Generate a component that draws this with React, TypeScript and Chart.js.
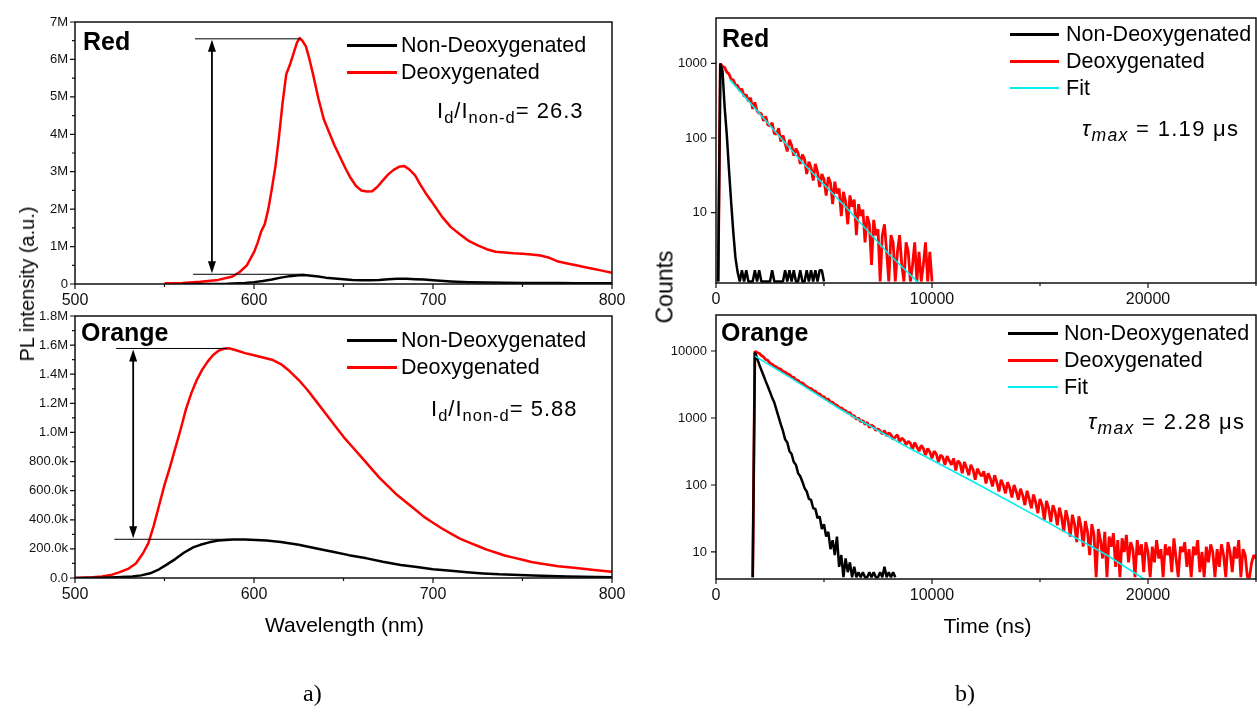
import React, { useEffect, useRef } from 'react';
import { Chart, registerables } from 'chart.js';

Chart.register(...registerables);

const PAGE_W = 1257;
const PAGE_H = 714;
const SANS = '"Liberation Sans", Arial, Helvetica, sans-serif';
const SERIF = '"Liberation Serif", "Times New Roman", serif';

// ---------- shared series styling ----------
const seriesLabels = ['Non-Deoxygenated', 'Deoxygenated', 'Fit'];
const seriesColors = ['#000000', '#ff0000', '#00eeee'];

// ---------- a) PL spectra ----------
const wavelengthTicks = [500, 600, 700, 800];
const wavelengthMinorTicks = [550, 650, 750];

const redPlTicks = [0, 1, 2, 3, 4, 5, 6, 7];
const redPlTickLabels = ['0', '1M', '2M', '3M', '4M', '5M', '6M', '7M'];
const redPlMinorTicks = [0.5, 1.5, 2.5, 3.5, 4.5, 5.5, 6.5];

const orangePlTicks = [0, 0.2, 0.4, 0.6, 0.8, 1.0, 1.2, 1.4, 1.6, 1.8];
const orangePlTickLabels = ['0.0', '200.0k', '400.0k', '600.0k', '800.0k', '1.0M', '1.2M', '1.4M', '1.6M', '1.8M'];
const orangePlMinorTicks = [0.1, 0.3, 0.5, 0.7, 0.9, 1.1, 1.3, 1.5, 1.7];

// Red emitter, PL in millions
const redDeoxWl = [550, 560, 570, 580, 588, 592, 596, 600, 602, 604, 606, 608, 610, 612, 614, 616, 618, 620, 622, 624, 625.5, 627, 629, 631, 633, 636, 639, 642, 645, 648, 651, 654, 657, 660, 663, 666, 669, 672, 675, 678, 681, 684, 687, 690, 693, 696, 700, 705, 710, 715, 720, 725, 730, 735, 740, 745, 750, 755, 760, 765, 770, 775, 780, 785, 790, 795, 800];
const redDeoxPl = [0.02, 0.03, 0.06, 0.11, 0.2, 0.32, 0.5, 0.85, 1.1, 1.4, 1.6, 2.0, 2.55, 3.15, 3.95, 4.85, 5.6, 5.85, 6.15, 6.45, 6.57, 6.5, 6.35, 6.0, 5.6, 4.95, 4.4, 4.05, 3.7, 3.4, 3.1, 2.83, 2.62, 2.5, 2.47, 2.48, 2.6, 2.77, 2.93, 3.05, 3.13, 3.15, 3.05, 2.9, 2.65, 2.42, 2.15, 1.8, 1.52, 1.33, 1.15, 1.03, 0.93, 0.86, 0.84, 0.82, 0.81, 0.79, 0.76, 0.7, 0.6, 0.55, 0.5, 0.45, 0.4, 0.35, 0.3];
const redNonDeoxWl = [560, 575, 585, 595, 600, 605, 610, 615, 620, 625, 628, 632, 636, 640, 645, 650, 655, 660, 665, 670, 675, 680, 685, 690, 695, 700, 710, 720, 730, 740, 750, 760, 770, 780, 790, 800];
const redNonDeoxPl = [0, 0.003, 0.01, 0.03, 0.05, 0.08, 0.12, 0.17, 0.21, 0.235, 0.24, 0.22, 0.2, 0.17, 0.15, 0.13, 0.11, 0.1, 0.1, 0.11, 0.13, 0.14, 0.14, 0.13, 0.12, 0.1, 0.07, 0.05, 0.04, 0.035, 0.03, 0.03, 0.025, 0.02, 0.02, 0.02];

// Orange emitter, PL in millions
const orangeDeoxWl = [500, 510, 515, 520, 525, 530, 534, 538, 541, 544, 547, 550, 553, 556, 559, 562, 565, 568, 571, 574, 577, 580, 583, 586, 590, 595, 600, 605, 610, 615, 620, 625, 630, 635, 640, 645, 650, 655, 660, 665, 670, 675, 680, 685, 690, 695, 700, 705, 710, 715, 720, 725, 730, 735, 740, 745, 750, 755, 760, 770, 780, 790, 800];
const orangeDeoxPl = [0.0, 0.005, 0.01, 0.02, 0.04, 0.065, 0.1, 0.17, 0.24, 0.36, 0.5, 0.64, 0.76, 0.89, 1.02, 1.16, 1.27, 1.36, 1.43, 1.485, 1.53, 1.56, 1.575, 1.578, 1.565, 1.545, 1.53, 1.515, 1.5, 1.47, 1.42, 1.36, 1.29, 1.21, 1.13, 1.05, 0.97, 0.9, 0.83, 0.76, 0.69, 0.63, 0.57, 0.52, 0.47, 0.42, 0.38, 0.34, 0.305, 0.27, 0.245, 0.22, 0.195, 0.175, 0.155, 0.14, 0.125, 0.11, 0.1, 0.08, 0.068, 0.055, 0.043];
const orangeNonDeoxWl = [500, 515, 523, 532, 537, 542, 547, 551, 556, 561, 566, 570, 575, 580, 588, 595, 607, 615, 625, 637, 644, 653, 663, 672, 682, 691, 700, 710, 719, 728, 737, 756, 775, 800];
const orangeNonDeoxPl = [0, 0.002, 0.005, 0.01, 0.018, 0.032, 0.06, 0.09, 0.13, 0.175, 0.21, 0.228, 0.245, 0.257, 0.265, 0.265, 0.258, 0.248, 0.228, 0.197, 0.18, 0.157, 0.135, 0.112, 0.09, 0.075, 0.06, 0.049, 0.039, 0.031, 0.025, 0.018, 0.01, 0.006];

// Intensity-ratio markers (wavelength, PL in millions)
const redRatioMarker = { x: 576.5, top: 6.55, bottom: 0.26, topFrom: 567, topTo: 626, bottomFrom: 566, bottomTo: 628 };
const orangeRatioMarker = { x: 532.5, top: 1.577, bottom: 0.266, topFrom: 523, topTo: 585, bottomFrom: 522, bottomTo: 586 };

// ---------- b) decays ----------
const timeTicks = [0, 10000, 20000];
const timeMinorTicks = [5000, 15000, 25000];
const redDecayTicks = [10, 100, 1000];
const redDecayTickLabels = ['10', '100', '1000'];
const orangeDecayTicks = [10, 100, 1000, 10000];
const orangeDecayTickLabels = ['10', '100', '1000', '10000'];

const channelNs = 100; // channel width of the decay histograms

const redDecayStartNs = 100;
const redDeoxCounts = [
  1.2, 990, 910, 880, 760, 720, 610, 600, 510, 505,
  430, 455, 360, 380, 310, 345, 245, 300, 230, 215,
  210, 170, 195, 150, 145, 160, 115, 112, 135, 90,
  108, 85, 66, 95, 80, 58, 72, 63, 45, 60,
  52, 33, 48, 40, 27, 45, 35, 22, 33, 28,
  17, 30, 25, 13, 26, 18, 21, 9, 19, 14,
  7, 17, 12, 15, 5, 13, 9, 11, 4, 9,
  7, 2, 8, 5, 6, 1.2, 5, 7, 3, 1.2,
  5, 4, 1.2, 3, 5, 2, 1.2, 4, 3, 1.2,
  2, 4, 1.2, 3, 1.2, 2, 4, 1.2, 3, 1.2,
];
const redNonDeoxCounts = [
  1.2, 990, 800, 260, 110, 38, 14, 5.5, 2.5, 1.6,
  1.2, 1.7, 1.2, 1.7, 1.2, 1.2, 1.2, 1.7, 1.2, 1.7,
  1.2, 1.2, 1.2, 1.2, 1.2, 1.7, 1.2, 1.2, 1.2, 1.2,
  1.2, 1.7, 1.2, 1.7, 1.2, 1.7, 1.2, 1.2, 1.7, 1.2,
  1.2, 1.7, 1.2, 1.7, 1.2, 1.7, 1.2, 1.7, 1.7, 1.2,
];
const redFitNs = [648, 2000, 4000, 6000, 8000, 9600];
const redFitCounts = [600, 215, 47, 12, 2.8, 1.0];

const orangeDecayStartNs = 1700;
const orangeDeoxCounts = [
  4.2, 9900, 9450, 9250, 8550, 8150, 7450, 7250, 6550, 6350,
  5950, 5750, 5450, 5350, 4950, 4850, 4550, 4450, 4100, 4050,
  3700, 3650, 3350, 3350, 3100, 2950, 2800, 2750, 2550, 2520,
  2300, 2290, 2080, 2090, 1890, 1910, 1720, 1730, 1580, 1560,
  1430, 1420, 1330, 1290, 1180, 1210, 1070, 1080, 960, 1000,
  880, 920, 800, 860, 720, 780, 740, 650, 690, 640,
  580, 650, 540, 600, 560, 480, 520, 560, 440, 500,
  470, 400, 450, 420, 340, 430, 370, 320, 390, 350,
  280, 350, 310, 250, 320, 290, 220, 280, 260, 200,
  270, 230, 200, 250, 165, 230, 210, 150, 220, 180,
  140, 200, 170, 120, 175, 150, 135, 160, 105, 150,
  125, 95, 140, 110, 80, 120, 100, 75, 110, 90,
  65, 100, 80, 60, 88, 70, 50, 82, 62, 45,
  72, 55, 38, 62, 50, 30, 58, 45, 28, 50,
  40, 25, 46, 33, 20, 42, 30, 17, 36, 26,
  14, 34, 24, 12, 29, 20, 9, 26, 18, 4.2,
  22, 15, 8, 20, 4.2, 17, 12, 19, 6, 15,
  4.2, 16, 10, 18, 7, 14, 11, 4.2, 15, 9,
  13, 5, 14, 10, 4.2, 12, 7, 15, 8, 11,
  4.2, 13, 9, 12, 5, 16, 8, 4.2, 12, 10,
  14, 6, 11, 4.2, 12, 9, 15, 5, 10, 4.2,
  12, 7, 13, 10, 4.2, 11, 6, 13, 9, 4.2,
  14, 10, 5, 12, 8, 15, 4.2, 11, 9, 4.2,
  4.2, 7, 9, 8,
];
const orangeNonDeoxCounts = [
  4.2, 9600, 7800, 6300, 5200, 4300, 3550, 2950, 2450, 2000,
  1700, 1320, 1030, 800, 640, 480, 430, 320, 290, 220,
  200, 150, 135, 112, 90, 80, 62, 60, 45, 44,
  32, 34, 22, 26, 17, 20, 11, 15, 9, 17,
  6, 9, 4.2, 8, 5, 7, 4.2, 6, 4.2, 5,
  4.2, 5, 4.2, 4.2, 5, 4.2, 5, 4.2, 4.2, 5,
  4.2, 6, 4.2, 5, 4.2, 5, 4.2,
];
const orangeFitNs = [1806, 3500, 5740, 8830, 11910, 15000, 18090, 19900];
const orangeFitCounts = [8400, 3900, 1360, 372, 112, 32, 9, 3.8];

const channelTimes = (start: number, counts: number[]) => counts.map((_, i) => start + i * channelNs);

// ---------- panel definitions ----------
type Series = { label: string; color: string; width: number; order: number; join: string; x: number[]; y: number[] };
type Panel = {
  id: string;
  area: { left: number; top: number; right: number; bottom: number };
  xMin: number; xMax: number; xTicks: number[]; xMinor: number[];
  yType: 'linear' | 'logarithmic'; yMin: number; yMax: number;
  yTicks: number[]; yLabels: string[]; yMinor: number[];
  yFont: number; yPad: number; xPad: number;
  series: Series[];
  marker?: any;
};

const panels: Panel[] = [
  {
    id: 'redPL',
    area: { left: 75, top: 22, right: 612, bottom: 284 },
    xMin: 500, xMax: 800, xTicks: wavelengthTicks, xMinor: wavelengthMinorTicks,
    yType: 'linear', yMin: 0, yMax: 7, yTicks: redPlTicks, yLabels: redPlTickLabels, yMinor: redPlMinorTicks,
    yFont: 13, yPad: 7, xPad: 7,
    series: [
      { label: seriesLabels[0], color: seriesColors[0], width: 2.5, order: 1, join: 'round', x: redNonDeoxWl, y: redNonDeoxPl },
      { label: seriesLabels[1], color: seriesColors[1], width: 2.5, order: 2, join: 'round', x: redDeoxWl, y: redDeoxPl },
    ],
    marker: redRatioMarker,
  },
  {
    id: 'orangePL',
    area: { left: 75, top: 316, right: 612, bottom: 578 },
    xMin: 500, xMax: 800, xTicks: wavelengthTicks, xMinor: wavelengthMinorTicks,
    yType: 'linear', yMin: 0, yMax: 1.8, yTicks: orangePlTicks, yLabels: orangePlTickLabels, yMinor: orangePlMinorTicks,
    yFont: 13, yPad: 7, xPad: 7,
    series: [
      { label: seriesLabels[0], color: seriesColors[0], width: 2.5, order: 1, join: 'round', x: orangeNonDeoxWl, y: orangeNonDeoxPl },
      { label: seriesLabels[1], color: seriesColors[1], width: 2.5, order: 2, join: 'round', x: orangeDeoxWl, y: orangeDeoxPl },
    ],
    marker: orangeRatioMarker,
  },
  {
    id: 'redDecay',
    area: { left: 716, top: 18, right: 1256, bottom: 283 },
    xMin: 0, xMax: 25000, xTicks: timeTicks, xMinor: timeMinorTicks,
    yType: 'logarithmic', yMin: 1.145, yMax: 4040, yTicks: redDecayTicks, yLabels: redDecayTickLabels, yMinor: [],
    yFont: 13, yPad: 9, xPad: 7,
    series: [
      { label: seriesLabels[2], color: seriesColors[2], width: 1.6, order: 0, join: 'round', x: redFitNs, y: redFitCounts },
      { label: seriesLabels[0], color: seriesColors[0], width: 2.5, order: 1, join: 'bevel', x: channelTimes(redDecayStartNs, redNonDeoxCounts), y: redNonDeoxCounts },
      { label: seriesLabels[1], color: seriesColors[1], width: 2.8, order: 2, join: 'bevel', x: channelTimes(redDecayStartNs, redDeoxCounts), y: redDeoxCounts },
    ],
  },
  {
    id: 'orangeDecay',
    area: { left: 716, top: 315, right: 1256, bottom: 579 },
    xMin: 0, xMax: 25000, xTicks: timeTicks, xMinor: timeMinorTicks,
    yType: 'logarithmic', yMin: 3.95, yMax: 34450, yTicks: orangeDecayTicks, yLabels: orangeDecayTickLabels, yMinor: [],
    yFont: 13, yPad: 9, xPad: 7,
    series: [
      { label: seriesLabels[2], color: seriesColors[2], width: 1.6, order: 0, join: 'round', x: orangeFitNs, y: orangeFitCounts },
      { label: seriesLabels[0], color: seriesColors[0], width: 2.5, order: 1, join: 'bevel', x: channelTimes(orangeDecayStartNs, orangeNonDeoxCounts), y: orangeNonDeoxCounts },
      { label: seriesLabels[1], color: seriesColors[1], width: 2.8, order: 2, join: 'bevel', x: channelTimes(orangeDecayStartNs, orangeDeoxCounts), y: orangeDeoxCounts },
    ],
  },
];

const Y_AXIS_W = 60;
const X_AXIS_H = 30;

function framePlugin(p: Panel) {
  return {
    id: 'frame_' + p.id,
    afterDatasetsDraw(chart: any) {
      const { ctx, chartArea: a } = chart;
      const xs = chart.scales.x;
      const ys = chart.scales.y;
      ctx.save();
      if (p.marker) {
        const m = p.marker;
        const ax = xs.getPixelForValue(m.x);
        const yt = ys.getPixelForValue(m.top);
        const yb = ys.getPixelForValue(m.bottom);
        ctx.strokeStyle = '#000';
        ctx.lineWidth = 1;
        ctx.beginPath();
        ctx.moveTo(xs.getPixelForValue(m.topFrom), yt);
        ctx.lineTo(xs.getPixelForValue(m.topTo), yt);
        ctx.moveTo(xs.getPixelForValue(m.bottomFrom), yb);
        ctx.lineTo(xs.getPixelForValue(m.bottomTo), yb);
        ctx.stroke();
        const head = 13;
        const hw = 4;
        ctx.lineWidth = 1.8;
        ctx.beginPath();
        ctx.moveTo(ax, yt + head - 2);
        ctx.lineTo(ax, yb - head + 2);
        ctx.stroke();
        ctx.fillStyle = '#000';
        ctx.beginPath();
        ctx.moveTo(ax, yt + 1);
        ctx.lineTo(ax - hw, yt + head);
        ctx.lineTo(ax + hw, yt + head);
        ctx.closePath();
        ctx.fill();
        ctx.beginPath();
        ctx.moveTo(ax, yb - 1);
        ctx.lineTo(ax - hw, yb - head);
        ctx.lineTo(ax + hw, yb - head);
        ctx.closePath();
        ctx.fill();
      }
      ctx.strokeStyle = '#111';
      ctx.lineWidth = 1.5;
      ctx.strokeRect(a.left, a.top, a.right - a.left, a.bottom - a.top);
      ctx.lineWidth = 1.2;
      ctx.beginPath();
      p.xTicks.forEach((v) => { const px = xs.getPixelForValue(v); ctx.moveTo(px, a.bottom); ctx.lineTo(px, a.bottom + 5); });
      p.xMinor.forEach((v) => { const px = xs.getPixelForValue(v); ctx.moveTo(px, a.bottom); ctx.lineTo(px, a.bottom + 3); });
      p.yTicks.forEach((v) => { const py = ys.getPixelForValue(v); ctx.moveTo(a.left - 5, py); ctx.lineTo(a.left, py); });
      p.yMinor.forEach((v) => { const py = ys.getPixelForValue(v); ctx.moveTo(a.left - 3, py); ctx.lineTo(a.left, py); });
      ctx.stroke();
      ctx.restore();
    },
  };
}

function buildConfig(p: Panel): any {
  return {
    type: 'line',
    data: {
      datasets: p.series.map((s) => ({
        label: s.label,
        data: s.x.map((xv, i) => ({ x: xv, y: s.y[i] })),
        borderColor: s.color,
        backgroundColor: s.color,
        borderWidth: s.width,
        pointRadius: 0,
        tension: 0,
        fill: false,
        order: s.order,
        borderJoinStyle: s.join,
      })),
    },
    options: {
      responsive: false,
      maintainAspectRatio: false,
      animation: false,
      events: [],
      layout: {
        padding: {
          left: p.area.left - Y_AXIS_W,
          right: PAGE_W - p.area.right,
          top: p.area.top,
          bottom: PAGE_H - p.area.bottom - X_AXIS_H,
        },
      },
      plugins: { legend: { display: false }, tooltip: { enabled: false } },
      scales: {
        x: {
          type: 'linear',
          min: p.xMin,
          max: p.xMax,
          bounds: 'data',
          grid: { display: false, drawTicks: false },
          border: { display: false },
          afterBuildTicks: (s: any) => { s.ticks = p.xTicks.map((v) => ({ value: v })); },
          afterFit: (s: any) => { s.height = X_AXIS_H; },
          ticks: {
            autoSkip: false,
            maxRotation: 0,
            padding: p.xPad,
            color: '#111',
            font: { family: SANS, size: 16 },
            callback: (v: number) => String(v),
          },
        },
        y: {
          type: p.yType,
          min: p.yMin,
          max: p.yMax,
          bounds: 'data',
          grid: { display: false, drawTicks: false },
          border: { display: false },
          afterBuildTicks: (s: any) => { s.ticks = p.yTicks.map((v) => ({ value: v })); },
          afterFit: (s: any) => { s.width = Y_AXIS_W; },
          ticks: {
            autoSkip: false,
            padding: p.yPad,
            color: '#111',
            font: { family: SANS, size: p.yFont },
            callback: (_v: number, i: number) => p.yLabels[i],
          },
        },
      },
    },
    plugins: [framePlugin(p)],
  };
}

function PanelChart({ panel }: { panel: Panel }) {
  const ref = useRef<HTMLCanvasElement>(null);
  useEffect(() => {
    const chart = new Chart(ref.current as HTMLCanvasElement, buildConfig(panel));
    return () => chart.destroy();
  }, [panel]);
  return (
    <canvas
      ref={ref}
      width={PAGE_W}
      height={PAGE_H}
      style={{ position: 'absolute', left: 0, top: 0, width: PAGE_W, height: PAGE_H }}
    />
  );
}

// ---------- text overlays ----------
function Txt(props: any) {
  const { x, y, size, bold, italic, family, center, spacing, children } = props;
  return (
    <div
      style={{
        position: 'absolute',
        left: x,
        top: y - 0.4885 * size,
        fontSize: size,
        lineHeight: 1,
        fontFamily: family || SANS,
        fontWeight: bold ? 700 : 400,
        fontStyle: italic ? 'italic' : 'normal',
        whiteSpace: 'nowrap',
        letterSpacing: spacing,
        transform: center ? 'translateX(-50%)' : undefined,
        color: '#000',
      }}
    >
      {children}
    </div>
  );
}

function VTxt({ x, y, size, children }: any) {
  return (
    <div
      style={{
        position: 'absolute',
        left: x,
        top: y,
        fontSize: size,
        lineHeight: 1,
        fontFamily: SANS,
        whiteSpace: 'nowrap',
        transform: 'translate(-50%, -50%) rotate(-90deg)',
        color: '#000',
      }}
    >
      {children}
    </div>
  );
}

const subStyle: React.CSSProperties = { fontSize: '0.75em', verticalAlign: '-0.3em', lineHeight: 0 };
const tauSubStyle: React.CSSProperties = { fontSize: '0.8em', verticalAlign: '-0.3em', lineHeight: 0, fontStyle: 'italic' };

function Legend({ x1, x2, tx, rows, count }: any) {
  const widths = [3, 3, 1.6];
  return (
    <>
      {rows.slice(0, count).map((ry: number, i: number) => (
        <React.Fragment key={i}>
          <div
            style={{
              position: 'absolute',
              left: x1,
              top: ry - widths[i] / 2,
              width: x2 - x1,
              height: widths[i],
              background: seriesColors[i],
            }}
          />
          <Txt x={tx} y={ry + 0.5} size={21.5}>{seriesLabels[i]}</Txt>
        </React.Fragment>
      ))}
    </>
  );
}

function Ratio({ x, y, value }: any) {
  return (
    <Txt x={x} y={y} size={22} spacing="1px">
      I<span style={subStyle}>d</span>/I<span style={subStyle}>non-d</span>= {value}
    </Txt>
  );
}

function Tau({ x, y, value }: any) {
  return (
    <Txt x={x} y={y} size={22} spacing="1.3px">
      <i>τ</i><span style={tauSubStyle}>max</span> = {value} μs
    </Txt>
  );
}

export default function App() {
  return (
    <div
      style={{
        position: 'absolute',
        left: 0,
        top: 0,
        width: PAGE_W,
        height: PAGE_H,
        background: '#ffffff',
        overflow: 'hidden',
        fontFamily: SANS,
      }}
    >
      {panels.map((p) => (
        <PanelChart key={p.id} panel={p} />
      ))}

      {/* panel names */}
      <Txt x={83} y={41} size={25} bold>Red</Txt>
      <Txt x={81} y={332} size={25} bold>Orange</Txt>
      <Txt x={722} y={38.5} size={25} bold>Red</Txt>
      <Txt x={721} y={332} size={25} bold>Orange</Txt>

      {/* legends */}
      <Legend x1={347} x2={397} tx={401} rows={[45, 72]} count={2} />
      <Legend x1={347} x2={397} tx={401} rows={[340, 367]} count={2} />
      <Legend x1={1010} x2={1059} tx={1066} rows={[34, 61, 88]} count={3} />
      <Legend x1={1008} x2={1058} tx={1064} rows={[333, 360, 387]} count={3} />

      {/* annotations */}
      <Ratio x={437} y={110.5} value="26.3" />
      <Ratio x={431} y={408.5} value="5.88" />
      <Tau x={1082} y={128.5} value="1.19" />
      <Tau x={1088} y={422} value="2.28" />

      {/* axis titles */}
      <VTxt x={26.5} y={283.5} size={20}>PL intensity (a.u.)</VTxt>
      <VTxt x={665} y={287} size={23}>Counts</VTxt>
      <Txt x={344.5} y={624.5} size={21} center>Wavelength (nm)</Txt>
      <Txt x={987.5} y={625.5} size={21} center>Time (ns)</Txt>

      {/* captions */}
      <div style={{ position: 'absolute', left: 303, top: 681, fontSize: 24, lineHeight: 1, fontFamily: SERIF }}>a)</div>
      <div style={{ position: 'absolute', left: 955, top: 681, fontSize: 24, lineHeight: 1, fontFamily: SERIF }}>b)</div>
    </div>
  );
}
